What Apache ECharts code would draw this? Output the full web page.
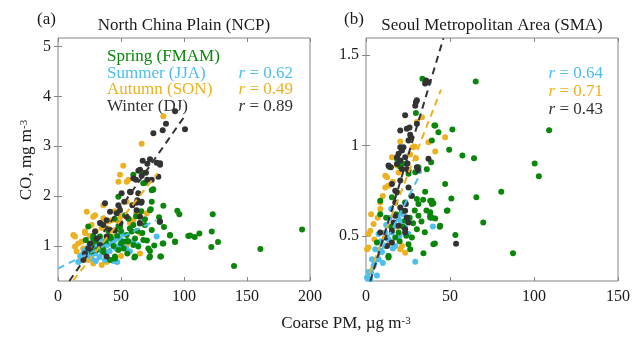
<!DOCTYPE html>
<html><head><meta charset="utf-8">
<script src="https://cdn.jsdelivr.net/npm/echarts@6/dist/echarts.min.js"></script>
<style>html,body{margin:0;padding:0;background:#fff}#c{width:637px;height:339px}</style>
</head><body><div id="c"></div>
<script>
// ---- Data: North China Plain (NCP) ----
const springNCP = [[122.8,1.64],[104.8,1.21],[108.5,1.18],[112.2,1.25],[122,1.29],[127,1.08],[121.7,0.98],[139.7,0.60],[160.6,0.94],[193.7,1.33],
[83.6,1.81],[94.7,1.71],[96.3,1.64],[103.4,1.20],[92.9,1.08],[88.9,1.21],[84.1,1.38],[80.2,1.58],[80.7,1.48],[81.7,0.79],[75.4,2.13],[73.6,1.74],[69,1.54],[83.1,1.05],[76.4,1.01],[73,0.90],[72.5,0.77],[70.6,1.11],[66.9,1.26],[63.7,0.99],[60.6,0.77],
[24,1.39],[33.3,1.19],[30.7,0.92],[26.7,0.89],[41.3,0.72],[45.2,0.79],[47.9,0.92],[51.8,1.09],[54.5,1.22],[58.5,1.29],[61.1,1.15],[59.8,1.02],[61.1,0.79],[67.7,1.12],[73,0.79],[59.8,1.42],[53.2,1.62],[59.8,2.43],[67.7,2.26],[74.4,2.12],[74.4,1.89],[73,1.72],[69,1.42],[74.4,1.32],[71.7,0.95],[81.2,0.79],[83.6,1.05],[88.9,1.22],[92.9,1.09],
[27,1.05],[30,1.1],[35,1.0],[38,1.08],[42,1.15],[44,1.0],[47,1.2],[50,1.05],[52,0.95],[55,1.1],[57,1.35],[48,1.4],[45,1.55],[40,1.3],[36,0.88],[55,0.85],[63,1.3],[65,1.45],[56,1.55],[50,1.3],[62,1.6],[66,1.7],[28,1.2],[22,1.12],[34,1.45],
[28,1.15],[41.3,1.19],[49.2,1.39],[55.8,1.09],[36,0.92],[45.2,0.75],[47.9,1.99],[67.7,2.47],[69,2.27],[75.6,2.14]];
const summerNCP = [[22.8,0.92],[29.4,0.85],[42.6,0.72],[44,0.70],[37.3,0.85],[45.2,1.12],[49.2,1.15],[57.1,0.89],[78.3,1.19],[34.7,0.89],[25.4,0.79],[50.5,1.26],[63.7,1.02],[56.3,0.89],[20,0.85],[24,0.98],[28,0.95],[31,1.0],[33,0.78],[36,0.95],[39,1.02],[41,0.9],[43,1.05],[46,0.95],[48,1.0],[52,1.05],[54,0.95],[40,1.15],[30,0.7],[47,0.68],[60,1.1],[35,1.1],[26,0.88],[18,0.8],[16.1,0.68],[21.4,0.92],[26.7,0.75],[37.3,0.72],[45.2,0.99]];
const autumnNCP = [[83.6,3.60],[66.4,3.05],[51.8,2.61],[49.2,2.43],[47.9,2.29],[55.8,2.33],[22.8,1.69],[29.4,1.62],[36,1.56],[42.6,1.52],[26.7,1.42],[21.4,1.29],[13.5,1.19],[18.8,1.09],[13.5,0.99],[14.8,0.89],[17.5,0.79],[34.7,0.62],[38.6,0.68],[65.1,0.85],[70.4,1.66],[54.5,1.89],[46.6,1.52],[59.8,1.52],[43.9,1.19],[54.5,1.02],[38.6,1.05],[32,1.15],[34.7,1.36],[54.5,2.29],[57.1,1.46],[65,1.26],[16,1.05],[20,0.95],[25,1.2],[30,1.3],[40,1.35],[45,1.7],[50,1.6],[62,1.65],[24,0.72],[28,0.65],[50,0.8],[28,1.59],[12.2,1.22],[21.4,1.26],[36,1.82],[39.9,1.49]];
const winterNCP = [[92.9,3.70],[85.7,3.45],[83.1,3.32],[75.7,3.26],[100.8,3.34],[73,2.74],[67.2,2.71],[78.3,2.67],[70.9,2.65],[81,2.63],[63.8,2.51],[69.8,2.47],[66.4,2.41],[61.9,2.33],[70.9,2.33],
[50.5,2.06],[57.1,2.09],[52.6,1.89],[63.7,2.06],[62.4,1.87],[66.4,1.89],[47.9,1.82],[41.3,1.69],[46.6,1.66],[37.3,1.86],[49.2,1.72],[54.5,1.59],[65.1,1.59],[62.4,1.72],[81,1.49],[79.6,2.39],[74.4,2.33],[81,2.66],[65.1,2.53],[59.8,2.36],
[36,1.42],[38.6,1.52],[33.3,1.46],[29.4,1.29],[41.3,1.32],[38.6,1.19],[30.7,1.15],[25.4,1.05],[33.3,1.02],[24,0.95],[21.4,0.85],[38.6,0.79],[20.1,0.72],[45.2,1.31],[49.6,1.46],
[57.7,2.08],[59,1.82],[63,1.92],[66,1.87],[65,1.46]];
const fitSummerNCP = [[0,0.55],[78,1.52]];
const fitAutumnNCP = [[12,0.31],[79,2.46]];
const fitWinterNCP = [[9,0.30],[101,3.62]];

// ---- Data: Seoul Metropolitan Area (SMA) ----
const springSMA = [[65.3,1.354],[109,1.085],[64.3,0.93],[100.4,0.90],[102.9,0.83],[65.7,0.713],[80.5,0.744],[69.8,0.574],[87.5,0.404],
[47.1,0.787],[50.8,0.706],[39.2,0.694],[40.1,0.68],[48.5,0.64],[38.2,0.63],[39.2,0.60],[41.2,0.596],[43.9,0.55],[53.2,0.504],[41,0.457],
[33.6,1.37],[29.7,1.18],[40.7,1.11],[43.1,1.074],[51.4,1.089],[39.2,1.028],[49.5,0.976],[57.4,0.944],[38.8,0.907],[18.4,0.926],[13.8,0.883],[20.4,0.883],[36.2,0.868],
[8.5,0.694],[8.5,0.62],[15.4,0.713],[25.3,0.843],[29.3,0.852],[35.2,0.744],[30.3,0.704],[38.2,0.694],[23.3,0.685],[21.4,0.639],[31.2,0.611],[23.3,0.583],[38.2,0.602],[19.4,0.518],[17.4,0.491],[27.3,0.491],[25.3,0.454],[13.4,0.389],[34.2,0.404],[40.1,0.454],[6.5,0.463],[31.2,0.88],
[48.1,0.639],[44.1,0.556],[30.3,0.537],[31.2,0.676],[39.2,0.676],[13.4,0.38],[26.3,0.426],[38.2,0.611],[41.2,1.11],[21.7,0.90],
[22,0.55],[26,0.6],[28,0.57],[33,0.58],[35,0.52],[20,0.47],[24,0.5],[29,0.64],[34,0.7],[27,0.72],[18,0.62],[15,0.55],[12,0.6],[36,0.64]];
const summerSMA = [[0.6,0.27],[1.6,0.30],[4.5,0.333],[7.5,0.37],[9.5,0.41],[11.5,0.444],[13.4,0.48],[15.4,0.518],[11.5,0.518],[17.4,0.556],[19.4,0.593],[23.3,0.546],[29.3,0.356],[7.5,0.51],[5.5,0.426],[3.5,0.37],[17.4,0.444],[13.4,0.389],[6.5,0.28],[25.3,0.51],[39.8,0.552],[9,0.47],[12,0.56],[14,0.6],[16,0.43],[10,0.35],[3,0.3],[20,0.5],[21,0.58],[8,0.42],[22,0.62],[15,0.65],[5,0.35],[2.5,0.26]];
const autumnSMA = [[1.5,0.51],[1.5,0.435],[8.5,0.648],[8.5,0.685],[11.5,0.768],[12.5,0.824],[21.4,0.444],[19.4,0.85],[18.4,0.889],[4.5,0.565],[2.6,0.528],[0.6,0.426],[11.5,0.833],[13.4,0.778],[20.4,0.426],[23.3,0.407],[47.1,1.046],[41.2,0.967],[33.3,1.157],[28.9,0.994],[20.4,1.022],[15.4,0.935],[26.3,0.95],[29.7,0.93],[30.3,1.13],[37.2,1.018],[27.9,0.99],[5,0.48],[7,0.6],[10,0.72],[16,0.8],[14,0.46],[3,0.62],[18,0.55]];
const winterSMA = [[35.2,1.343],[37.2,1.35],[29.7,1.24],[29.3,1.22],[23.3,1.167],[30.3,1.12],[20.4,1.083],[24.3,1.093],[26.3,1.06],[25.3,1.028],[20.4,0.99],[21.4,0.972],[19.4,0.954],[23.3,0.935],[37.2,0.926],[35.8,1.36],[30.3,1.25],[25.9,1.10],[26.7,1.046],[22.3,0.99],[18.4,0.935],[24.7,0.90],[14.8,0.88],[30.3,0.88],
[15.4,0.787],[17.4,0.75],[20.4,0.806],[21.4,0.87],[25.3,0.861],[17.4,0.685],[20.4,0.657],[23.7,0.676],[17.4,0.611],[19.4,0.556],[23.3,0.537],[8.5,0.518],[11.5,0.491],[15.4,0.463],[27.3,0.722],[24.3,0.602],[12.5,0.444],[13.4,0.889],[18.4,0.898],[20.4,0.917],[24.3,0.87],[31.2,0.861],[25.3,0.768],[18.4,0.741],[23.3,0.639],[25.3,0.574],[16.4,0.574],[15.4,0.528],[23.3,0.518],[53.6,0.456]];
const fitSummerSMA = [[0,0.25],[33,0.857]];
const fitAutumnSMA = [[2,0.294],[44.7,1.31]];
const fitWinterSMA = [[2.6,0.25],[46.1,1.594]];

// ---- Ticks / labels ----
const xTicksNCP = [0,50,100,150,200];
const yTicksNCP = [1,2,3,4,5];
const xTicksSMA = [0,50,100,150];
const yTicksSMA = [0.5,1,1.5];
const seasonLabels = ['Spring (FMAM)','Summer (JJA)','Autumn (SON)','Winter (DJ)'];
const rNCP = ['0.62','0.49','0.89'];
const rSMA = ['0.64','0.71','0.43'];

const C = {spring:'#0a870a', summer:'#4DBEEE', autumn:'#EDB120', winter:'#333333'};
const FONT = "'Liberation Serif','Times New Roman',serif";
const AX = '#858585';

const chart = echarts.init(document.getElementById('c'), null, {renderer:'canvas'});

function xAx(gi, max, ticks, pos) {
  const main = pos === 'bottom';
  return {gridIndex:gi, type:'value', min:0, max:max, position:pos,
    axisLine:{show:false}, splitLine:{show:false},
    axisTick:{show:true, inside:true, length:4, lineStyle:{color:AX}, customValues:ticks},
    axisLabel:{show:main, customValues:ticks, margin:8, color:'#1a1a1a', fontFamily:FONT, fontSize:16}};
}
function yAx(gi, min, max, ticks, pos) {
  const main = pos === 'left';
  return {gridIndex:gi, type:'value', min:min, max:max, position:pos,
    axisLine:{show:false}, splitLine:{show:false},
    axisTick:{show:true, inside:true, length:4, lineStyle:{color:AX}, customValues:ticks},
    axisLabel:{show:main, customValues:ticks, margin:7, color:'#1a1a1a', fontFamily:FONT, fontSize:16}};
}
function sc(data, color, xi, yi) {
  return {type:'scatter', data:data, xAxisIndex:xi, yAxisIndex:yi, symbolSize:6,
    itemStyle:{color:color, opacity:1}, silent:true, animation:false};
}
function fit(data, color, xi, yi) {
  return {type:'line', data:data, xAxisIndex:xi, yAxisIndex:yi, symbol:'none',
    lineStyle:{color:color, width:2, type:[7,5]}, silent:true, animation:false, z:5};
}

const txt = (x,y,text,extra) => Object.assign({type:'text', x:x, y:y, silent:true,
  style:Object.assign({text:text, font:'17px '+FONT, fill:'#1a1a1a', textVerticalAlign:'middle'}, extra||{})});
const rtxt = (x,y,val,color) => ({type:'text', x:x, y:y, silent:true,
  style:{text:'{i|r} = '+val, align:'right', verticalAlign:'middle', fill:color, font:'17px '+FONT,
    rich:{i:{fontStyle:'italic', fontFamily:FONT, fontSize:17, fill:color}}}});

const graphics = [
  txt(37,20,'(a)'),
  txt(184,26,'North China Plain (NCP)',{align:'center'}),
  txt(344,20,'(b)'),
  txt(492,26,'Seoul Metropolitan Area (SMA)',{align:'center'}),
  txt(107,57,seasonLabels[0],{fill:C.spring}),
  txt(107,73.5,seasonLabels[1],{fill:C.summer}),
  txt(107,90,seasonLabels[2],{fill:C.autumn}),
  txt(107,107,seasonLabels[3],{fill:C.winter}),
  rtxt(293,73.5,rNCP[0],C.summer),
  rtxt(293,90,rNCP[1],C.autumn),
  rtxt(293,107,rNCP[2],C.winter),
  rtxt(603,74,rSMA[0],C.summer),
  rtxt(603,92,rSMA[1],C.autumn),
  rtxt(603,110,rSMA[2],C.winter),
  {type:'text', x:346, y:324, silent:true, style:{text:'Coarse PM, µg m{s|-3}', align:'center', verticalAlign:'middle',
    font:'17px '+FONT, fill:'#1a1a1a', rich:{s:{fontSize:11, fontFamily:FONT, verticalAlign:'top', lineHeight:11}}}},
  {type:'text', x:27, y:160, rotation:Math.PI/2, silent:true, style:{text:'CO, mg m{s|-3}', align:'center', verticalAlign:'middle',
    font:'17px '+FONT, fill:'#1a1a1a', rich:{s:{fontSize:11, fontFamily:FONT, verticalAlign:'top', lineHeight:11}}}}
];

chart.setOption({
  animation:false,
  backgroundColor:'#fff',
  grid:[
    {left:58, top:38, width:252, height:243, show:true, borderColor:AX, borderWidth:1, backgroundColor:'transparent'},
    {left:366, top:38, width:252, height:243, show:true, borderColor:AX, borderWidth:1, backgroundColor:'transparent'}
  ],
  xAxis:[xAx(0,200,xTicksNCP,'bottom'), xAx(0,200,xTicksNCP,'top'), xAx(1,150,xTicksSMA,'bottom'), xAx(1,150,xTicksSMA,'top')],
  yAxis:[yAx(0,0.3,5.17,yTicksNCP,'left'), yAx(0,0.3,5.17,yTicksNCP,'right'), yAx(1,0.25,1.595,yTicksSMA,'left'), yAx(1,0.25,1.595,yTicksSMA,'right')],
  series:[
    sc(autumnNCP,C.autumn,0,0), sc(summerNCP,C.summer,0,0), sc(springNCP,C.spring,0,0), sc(winterNCP,C.winter,0,0),
    fit(fitSummerNCP,C.summer,0,0), fit(fitAutumnNCP,C.autumn,0,0), fit(fitWinterNCP,C.winter,0,0),
    sc(autumnSMA,C.autumn,2,2), sc(summerSMA,C.summer,2,2), sc(springSMA,C.spring,2,2), sc(winterSMA,C.winter,2,2),
    fit(fitSummerSMA,C.summer,2,2), fit(fitAutumnSMA,C.autumn,2,2), fit(fitWinterSMA,C.winter,2,2)
  ],
  graphic:graphics
});
</script></body></html>
